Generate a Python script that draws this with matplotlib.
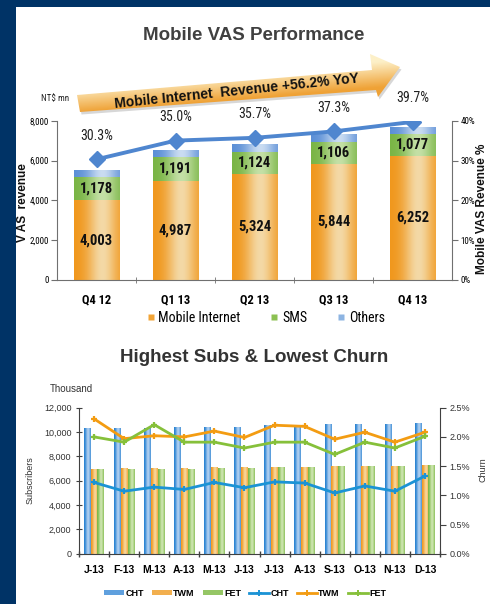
import numpy as np
import matplotlib
matplotlib.use('Agg')
import matplotlib.pyplot as plt
from matplotlib.patches import Polygon, Rectangle, Patch
from matplotlib.lines import Line2D
from matplotlib.colors import to_rgb
from matplotlib.ticker import FuncFormatter, MultipleLocator, FixedLocator
import matplotlib.font_manager as fm

# ---------------- data ----------------
quarters = ['Q4 12', 'Q1 13', 'Q2 13', 'Q3 13', 'Q4 13']
mobile_internet = [4003, 4987, 5324, 5844, 6252]
sms = [1178, 1191, 1124, 1106, 1077]
others = [355, 355, 385, 385, 340]
vas_pct = [30.3, 35.0, 35.7, 37.3, 39.7]

months = ['J-13', 'F-13', 'M-13', 'A-13', 'M-13', 'J-13',
          'J-13', 'A-13', 'S-13', 'O-13', 'N-13', 'D-13']
subs_cht = [10350, 10350, 10350, 10380, 10450, 10450, 10550, 10560, 10620, 10630, 10650, 10720]
subs_twm = [7000, 7070, 7070, 7070, 7150, 7150, 7160, 7160, 7170, 7170, 7170, 7280]
subs_fet = [7000, 7000, 7000, 7000, 7070, 7070, 7160, 7160, 7170, 7170, 7170, 7280]
churn_cht = [1.22, 1.07, 1.14, 1.10, 1.22, 1.13, 1.23, 1.21, 1.04, 1.16, 1.07, 1.33]
churn_twm = [2.31, 1.97, 2.02, 2.00, 2.10, 1.99, 2.20, 2.18, 1.96, 2.08, 1.91, 2.08]
churn_fet = [2.00, 1.91, 2.21, 1.91, 1.91, 1.81, 1.91, 1.91, 1.70, 1.91, 1.81, 2.01]

# ---------------- fonts ----------------
names = {f.name for f in fm.fontManager.ttflist}
REG = [n for n in ['Liberation Sans', 'DejaVu Sans'] if n in names] or ['DejaVu Sans']
NARROW = [n for n in ['Liberation Sans Narrow', 'Roboto Condensed', 'Liberation Sans', 'DejaVu Sans']
          if n in names] or ['DejaVu Sans']
plt.rcParams['font.family'] = REG

W, H = 490, 604
fig = plt.figure(figsize=(W / 100, H / 100), dpi=100)
fig.patch.set_facecolor('white')


def fax(x0, y0, x1, y1):
    """pixel box (top-left origin) -> figure fraction rect"""
    return [x0 / W, 1 - y1 / H, (x1 - x0) / W, (y1 - y0) / H]


def fpt(px, py):
    return px / W, 1 - py / H


def gradient_patches(ax, patches, dark, light, peak=0.62, spread=0.32, z=2):
    d = np.array(to_rgb(dark))
    l = np.array(to_rgb(light))
    t = np.linspace(0, 1, 80)
    f = np.exp(-((t - peak) / spread) ** 2)
    row = d[None, :] * (1 - f[:, None]) + l[None, :] * f[:, None]
    img = row[None, :, :]
    for p in patches:
        x0, y0, w, h = p.get_x(), p.get_y(), p.get_width(), p.get_height()
        p.set_facecolor('none')
        im = ax.imshow(img, extent=[x0, x0 + w, y0, y0 + h], aspect='auto',
                       zorder=z, interpolation='bilinear')
        im.set_clip_path(p)


# ================= TOP CHART =================
ax1 = fig.add_axes(fax(57, 120.7, 452, 280))
x = np.arange(len(quarters))
bw = 0.57
b_mi = ax1.bar(x, mobile_internet, bw, color='#F0961E', edgecolor='none', zorder=2)
b_sms = ax1.bar(x, sms, bw, bottom=mobile_internet, color='#7CB648', edgecolor='none', zorder=2)
bot2 = np.array(mobile_internet) + np.array(sms)
b_oth = ax1.bar(x, others, bw, bottom=bot2, color='#6F9EDA', edgecolor='none', zorder=2)
gradient_patches(ax1, b_mi, '#F0961A', '#F4D9A6')
gradient_patches(ax1, b_sms, '#78B443', '#C4E0A6')
gradient_patches(ax1, b_oth, '#5A8ED6', '#CADCF2')

for i in range(len(quarters)):
    ax1.text(x[i], mobile_internet[i] / 2, f'{mobile_internet[i]:,}', ha='center', va='center',
             fontsize=10.5, fontweight='bold', family=NARROW, color='#111111', zorder=4)
    ax1.text(x[i], mobile_internet[i] + sms[i] / 2, f'{sms[i]:,}', ha='center', va='center',
             fontsize=10.5, fontweight='bold', family=NARROW, color='#111111', zorder=4)

ax1.set_xlim(-0.5, len(quarters) - 0.5)
ax1.set_ylim(0, 8000)
ax1.yaxis.set_major_locator(MultipleLocator(2000))
ax1.yaxis.set_major_formatter(FuncFormatter(lambda v, p: f'{int(v):,}'))
ax1.set_xticks(x)
ax1.set_xticklabels(quarters)
ax1.xaxis.set_minor_locator(FixedLocator(np.arange(0.5, len(quarters) - 0.5, 1)))
ax1.tick_params(axis='x', which='major', length=0, pad=10, labelsize=9)
ax1.tick_params(axis='x', which='minor', length=5, direction='inout', color='#707070')
ax1.tick_params(axis='y', length=4, direction='out', color='#707070', labelsize=6.5, pad=2)
for lbl in ax1.get_xticklabels() + ax1.get_yticklabels():
    lbl.set_family(NARROW)
for lbl in ax1.get_xticklabels():
    lbl.set_fontweight('bold')
for s in ['top', 'right']:
    ax1.spines[s].set_visible(False)
for s in ['left', 'bottom']:
    ax1.spines[s].set_color('#707070')
ax1.set_facecolor('none')

ax1r = ax1.twinx()
ax1r.set_ylim(0, 40)
ax1r.plot(x, vas_pct, color='#4F86CF', lw=2.8, marker='D', ms=8,
          mfc='#4F86CF', mec='#4F86CF', zorder=5)
for i, v in enumerate(vas_pct):
    ax1r.annotate(f'{v:.1f}%', (x[i], v), xytext=(0, 17), textcoords='offset points',
                  ha='center', va='center', fontsize=10, family=NARROW, color='#222222')
ax1r.yaxis.set_major_locator(MultipleLocator(10))
ax1r.yaxis.set_major_formatter(FuncFormatter(lambda v, p: f'{int(v)}%'))
ax1r.tick_params(axis='y', length=4, direction='out', color='#707070', labelsize=6.5, pad=2)
for lbl in ax1r.get_yticklabels():
    lbl.set_family(NARROW)
for s in ['top', 'left', 'bottom']:
    ax1r.spines[s].set_visible(False)
ax1r.spines['right'].set_color('#707070')

fig.text(*fpt(23, 203), 'V AS  revenue', rotation=90, ha='center', va='center',
         fontsize=8.5, fontweight='bold', color='#111111')
fig.text(*fpt(482, 209), 'Mobile VAS Revenue %', rotation=90, ha='center', va='center',
         fontsize=8.5, fontweight='bold', color='#111111')

top_handles = [Line2D([], [], ls='none', marker='s', ms=5, mfc='#F2A436', mec='none'),
               Line2D([], [], ls='none', marker='s', ms=5, mfc='#8CC152', mec='none'),
               Line2D([], [], ls='none', marker='s', ms=5, mfc='#8DB4E2', mec='none')]
fig.legend(top_handles, ['Mobile Internet', 'SMS', 'Others'], loc='center',
           bbox_to_anchor=fpt(266, 318), ncol=3, frameon=False,
           handlelength=0.5, handletextpad=0.3, columnspacing=2.2,
           prop={'family': NARROW, 'size': 10})

fig.text(*fpt(254, 35), 'Mobile VAS Performance', ha='center', va='center',
         fontsize=13.5, fontweight='bold', color='#404040')
fig.text(*fpt(41, 99), 'NT$ mn', ha='left', va='center', fontsize=6.5,
         family=NARROW, color='#222222')

# ================= BOTTOM CHART =================
ax2 = fig.add_axes(fax(79, 407.7, 440, 553.7))
xm = np.arange(len(months))
w2 = 0.225
bc = ax2.bar(xm - w2, subs_cht, w2, color='#2F86D2', edgecolor='none', zorder=2)
bt = ax2.bar(xm, subs_twm, w2, color='#F29A1E', edgecolor='none', zorder=2)
bf = ax2.bar(xm + w2, subs_fet, w2, color='#7DB944', edgecolor='none', zorder=2)
gradient_patches(ax2, bc, '#1E7CCF', '#B0CFF0', peak=0.6, spread=0.35)
gradient_patches(ax2, bt, '#F0951A', '#F8D69A', peak=0.6, spread=0.35)
gradient_patches(ax2, bf, '#77B43E', '#CDE5B0', peak=0.6, spread=0.35)

ax2.set_xlim(-0.5, len(months) - 0.5)
ax2.set_ylim(0, 12000)
ax2.yaxis.set_major_locator(MultipleLocator(2000))
ax2.yaxis.set_major_formatter(FuncFormatter(lambda v, p: f'{int(v):,}'))
ax2.set_xticks(xm)
ax2.set_xticklabels(months)
ax2.xaxis.set_minor_locator(FixedLocator(np.arange(-0.5, len(months), 1)))
ax2.tick_params(axis='x', which='major', length=0, pad=8, labelsize=7.5)
ax2.tick_params(axis='x', which='minor', length=5, direction='inout', color='#404040', width=1)
ax2.tick_params(axis='y', length=5, direction='inout', color='#404040', labelsize=6.5, pad=3,
                labelcolor='#333333')
for lbl in ax2.get_xticklabels():
    lbl.set_fontweight('bold')
for s in ['top', 'right']:
    ax2.spines[s].set_visible(False)
ax2.spines['left'].set_color('#404040')
ax2.spines['bottom'].set_color('#404040')
ax2.set_facecolor('none')

ax2r = ax2.twinx()
ax2r.set_ylim(0, 2.5)
ax2r.plot(xm, churn_cht, color='#1B93D5', lw=2, marker='+', ms=5, mew=1.6, zorder=5)
ax2r.plot(xm, churn_twm, color='#F39C12', lw=2, marker='+', ms=5, mew=1.6, zorder=5)
ax2r.plot(xm, churn_fet, color='#86C03A', lw=2, marker='+', ms=5, mew=1.6, zorder=5)
ax2r.yaxis.set_major_locator(MultipleLocator(0.5))
ax2r.yaxis.set_major_formatter(FuncFormatter(lambda v, p: f'{v:.1f}%'))
ax2r.tick_params(axis='y', length=4, direction='out', color='#404040', labelsize=6.5, pad=3,
                 labelcolor='#333333')
for s in ['top', 'left', 'bottom']:
    ax2r.spines[s].set_visible(False)
ax2r.spines['right'].set_color('#404040')

fig.text(*fpt(30, 480), 'Subscribers', rotation=90, ha='center', va='center',
         fontsize=6.5, color='#333333')
fig.text(*fpt(483, 470), 'Churn', rotation=90, ha='center', va='center',
         fontsize=6.5, color='#333333')

bot_handles = [Patch(facecolor='#5FA0DE', edgecolor='none'),
               Patch(facecolor='#F2AF4E', edgecolor='none'),
               Patch(facecolor='#95C665', edgecolor='none'),
               Line2D([], [], color='#1B93D5', lw=2, marker='+', ms=4, mew=1.4),
               Line2D([], [], color='#F39C12', lw=2, marker='+', ms=4, mew=1.4),
               Line2D([], [], color='#86C03A', lw=2, marker='+', ms=4, mew=1.4)]
fig.legend(bot_handles, ['CHT', 'TWM', 'FET', 'CHT', 'TWM', 'FET'], loc='center',
           bbox_to_anchor=fpt(245, 593), ncol=6, frameon=False,
           handlelength=2.2, handleheight=0.55, handletextpad=0.15, columnspacing=0.9,
           prop={'size': 6.5, 'weight': 'bold'})

fig.text(*fpt(254, 358), 'Highest Subs & Lowest Churn', ha='center', va='center',
         fontsize=13.5, fontweight='bold', color='#333333')
fig.text(*fpt(50, 389), 'Thousand', ha='left', va='center', fontsize=7, color='#333333')

# ================= decorations (pixel overlay) =================
ov = fig.add_axes([0, 0, 1, 1], zorder=10)
ov.set_xlim(0, W)
ov.set_ylim(H, 0)
ov.axis('off')
ov.patch.set_alpha(0)
ov.add_patch(Rectangle((0, 0), W, 7, facecolor='#003366', edgecolor='none'))
ov.add_patch(Rectangle((0, 0), 16, H, facecolor='#003366', edgecolor='none'))

arrow_pts = np.array([(80, 112), (77, 95), (372, 70), (370, 54), (400, 67), (378, 97), (376, 90)])
shadow = Polygon(arrow_pts + np.array([1.5, 2.5]), closed=True, facecolor='#b0b0b0',
                 edgecolor='none', alpha=0.5, zorder=1)
ov.add_patch(shadow)
arrow = Polygon(arrow_pts, closed=True, facecolor='none', edgecolor='none', zorder=2)
ov.add_patch(arrow)
gx = np.linspace(70, 405, 200)
gy = np.linspace(50, 116, 80)
GX, GY = np.meshgrid(gx, gy)
ytop = 95 - (25 / 295) * (GX - 77)
dd = np.clip((GY - ytop + 8) / 26, 0, 1)[..., None]
light = np.array(to_rgb('#FDF0C8'))
dark = np.array(to_rgb('#EFA236'))
img = light * (1 - dd) + dark * dd
im = ov.imshow(img, extent=[70, 405, 116, 50], aspect='auto', interpolation='bilinear', zorder=3)
im.set_clip_path(arrow)
ov.set_xlim(0, W)
ov.set_ylim(H, 0)
ov.text(237, 91.5, 'Mobile Internet  Revenue +56.2% YoY', ha='center', va='center',
        rotation=6, fontsize=10, fontweight='bold', color='#111111', zorder=4)

fig.savefig('out.png', dpi=100)
